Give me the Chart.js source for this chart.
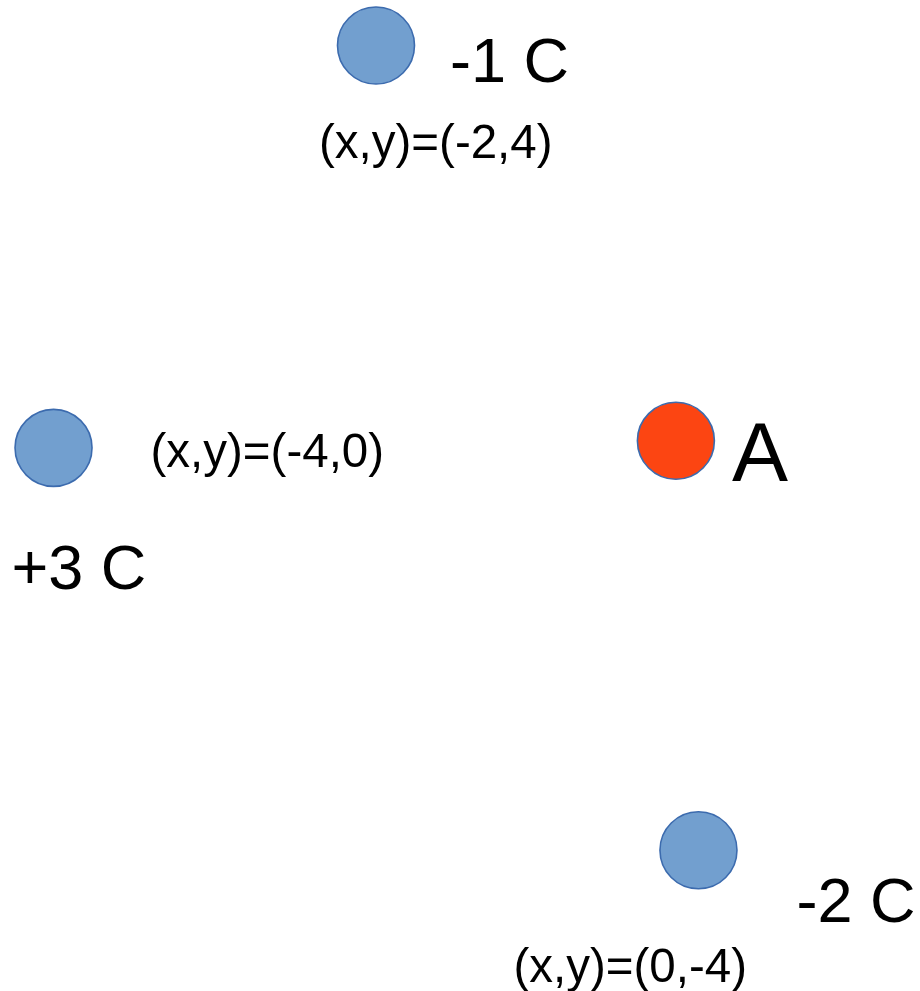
<!DOCTYPE html>
<html lang="en">
<head>
    <meta charset="UTF-8">
    <title>Point charges</title>
    <script src="https://cdn.jsdelivr.net/npm/chart.js"></script>
    <style>
        html, body { margin: 0; padding: 0; background: #fff; }
        .wrap { width: 920px; height: 991px; }
    </style>
</head>
<body>
    <div class="wrap"><canvas id="chargeChart"></canvas></div>

    <script>
        // Charges and the field point
        var chargeX = [-2, -4, 0];
        var chargeY = [4, 0, -4];
        var chargeLabels = ['-1 C', '+3 C', '-2 C'];
        var coordLabels = ['(x,y)=(-2,4)', '(x,y)=(-4,0)', '(x,y)=(0,-4)'];

        var pointAX = [-0.14];
        var pointAY = [0.07];
        var pointALabels = ['A'];

        // Visible axis range (axes themselves hidden)
        var xRange = [-4.332, 1.374];
        var yRange = [-5.399, 4.452];

        // Text placement relative to each marker (px)
        var chargeTextOffset = [[74, 37], [-42, 141], [98, 72]];
        var coordTextOffset = [[-57, 113], [97, 19], [-185, 132]];
        var aTextOffset = [56, 40];

        var FONT = '"Liberation Sans", Arial, sans-serif';

        var chargePoints = chargeX.map(function (x, i) { return { x: x, y: chargeY[i] }; });
        var aPoints = pointAX.map(function (x, i) { return { x: x, y: pointAY[i] }; });

        // Draws the text next to every marker
        var labelPlugin = {
            id: 'labels',
            afterDatasetsDraw: function (chart) {
                var ctx = chart.ctx;
                var xs = chart.scales.x, ys = chart.scales.y;
                ctx.save();
                ctx.fillStyle = '#000';
                ctx.textAlign = 'left';
                ctx.textBaseline = 'alphabetic';

                chargePoints.forEach(function (p, i) {
                    var px = xs.getPixelForValue(p.x), py = ys.getPixelForValue(p.y);
                    ctx.font = '63px ' + FONT;
                    ctx.fillText(chargeLabels[i], px + chargeTextOffset[i][0], py + chargeTextOffset[i][1]);
                    ctx.font = '47.5px ' + FONT;
                    ctx.fillText(coordLabels[i], px + coordTextOffset[i][0], py + coordTextOffset[i][1]);
                });

                aPoints.forEach(function (p, i) {
                    var px = xs.getPixelForValue(p.x), py = ys.getPixelForValue(p.y);
                    ctx.font = '84px ' + FONT;
                    ctx.fillText(pointALabels[i], px + aTextOffset[0], py + aTextOffset[1]);
                });
                ctx.restore();
            }
        };

        var chargeChart = new Chart(document.getElementById('chargeChart'), {
            type: 'scatter',
            data: {
                datasets: [{
                    label: 'Charges',
                    data: chargePoints,
                    pointRadius: 38.5,
                    pointHoverRadius: 38.5,
                    pointBackgroundColor: '#729fcf',
                    pointBorderColor: '#3c6bae',
                    pointBorderWidth: 1.6
                }, {
                    label: 'A',
                    data: aPoints,
                    pointRadius: 38.5,
                    pointHoverRadius: 38.5,
                    pointBackgroundColor: '#fc4512',
                    pointBorderColor: '#3c6bae',
                    pointBorderWidth: 1.6
                }]
            },
            options: {
                responsive: true,
                maintainAspectRatio: false,
                animation: false,
                layout: { padding: 0, autoPadding: false },
                plugins: {
                    legend: { display: false },
                    tooltip: { enabled: false }
                },
                scales: {
                    x: { type: 'linear', min: xRange[0], max: xRange[1], display: false },
                    y: { type: 'linear', min: yRange[0], max: yRange[1], display: false }
                }
            },
            plugins: [labelPlugin]
        });
    </script>
</body>
</html>
